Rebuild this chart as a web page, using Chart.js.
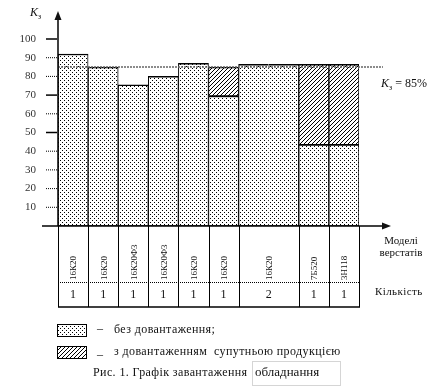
<!DOCTYPE html>
<html lang="uk">
<head>
<meta charset="UTF-8">
<title>Графік завантаження обладнання</title>
<script src="https://cdn.jsdelivr.net/npm/chart.js"></script>
<style>
    html, body { margin: 0; padding: 0; background: #fff; }
    canvas { display: block; }
</style>
</head>
<body>
<canvas id="load-chart" width="444" height="388"></canvas>
<script>
    // Моделі верстатів і їх кількість
    const models = ['16К20', '16К20', '16К20Ф3', '16К20Ф3', '16К20', '16К20', '16К20', '7Б520', '3Н118'];
    const counts = [1, 1, 1, 1, 1, 1, 2, 1, 1];
    // Коефіцієнт завантаження, %
    const baseLoad = [92, 85, 75.5, 80, 87, 69.5, 86.5, 43.5, 43.5];   // без довантаження
    const extraLoad = [null, null, null, null, null, 15.5, null, 43, 43]; // супутня продукція
    const yTicks = [10, 20, 30, 40, 50, 60, 70, 80, 90, 100];
    const solidTicks = [100, 70, 50];
    const targetLoad = 85;

    const serif = '"Liberation Serif", "Times New Roman", serif';
    const canvas = document.getElementById('load-chart');
    const mainCtx = canvas.getContext('2d');

    // один стовпчик на кожен верстат, група з 2 верстатів = подвійна ширина
    const unitLabels = [], unitBase = [], unitExtra = [], unitGroup = [];
    models.forEach((m, g) => {
        for (let k = 0; k < counts[g]; k++) {
            unitLabels.push(m);
            unitBase.push(baseLoad[g]);
            unitExtra.push(extraLoad[g]);
            unitGroup.push(g);
        }
    });

    function makePattern(draw) {
        const tile = document.createElement('canvas');
        tile.width = 4; tile.height = 4;
        const g = tile.getContext('2d');
        g.fillStyle = '#fff';
        g.fillRect(0, 0, 4, 4);
        g.fillStyle = '#000';
        draw(g);
        return mainCtx.createPattern(tile, 'repeat');
    }
    const dots = makePattern(g => { g.fillRect(0, 0, 1, 1); g.fillRect(2, 2, 1, 1); });
    const hatch = makePattern(g => { for (let i = 0; i < 4; i++) g.fillRect(i, 3 - i, 1, 1); });

    function borderFor(ctx) {
        const i = ctx.dataIndex;
        const g = unitGroup[i];
        return {
            top: 1.5, bottom: 1,
            left: i > 0 && unitGroup[i - 1] === g ? 0 : 1,
            right: unitGroup[i + 1] === g ? 0 : 1
        };
    }

    function line(ctx, x1, y1, x2, y2) {
        ctx.beginPath();
        ctx.moveTo(x1, y1);
        ctx.lineTo(x2, y2);
        ctx.stroke();
    }

    function kLabel(ctx, x, y, size, tail) {
        ctx.textAlign = 'left';
        ctx.textBaseline = 'alphabetic';
        ctx.font = `italic ${size}px ${serif}`;
        ctx.fillText('K', x, y);
        let w = ctx.measureText('K').width;
        ctx.font = `${size - 4}px ${serif}`;
        ctx.fillText('з', x + w, y + 3);
        w += ctx.measureText('з').width;
        if (tail) {
            ctx.font = `${size}px ${serif}`;
            ctx.fillText(tail, x + w, y);
        }
    }

    const decor = {
        id: 'decor',
        afterDraw(chart) {
            const ctx = chart.ctx;
            const xs = chart.scales.x, ys = chart.scales.y;
            const left = chart.chartArea.left;
            const y0 = ys.getPixelForValue(0);
            ctx.save();
            ctx.strokeStyle = '#000';
            ctx.fillStyle = '#111';

            // лінія нормативного завантаження
            const yt = ys.getPixelForValue(targetLoad);
            ctx.strokeStyle = '#666';
            ctx.lineWidth = 1.5;
            ctx.setLineDash([2, 1]);
            line(ctx, left, yt, 383, yt);
            ctx.setLineDash([]);
            ctx.fillStyle = '#111';
            kLabel(ctx, 381, yt + 20, 12, ' = 85%');

            // осі зі стрілками
            ctx.strokeStyle = '#000';
            ctx.lineWidth = 1.5;
            line(ctx, left, y0, left, 18);
            line(ctx, 42, y0, 386, y0);
            ctx.beginPath();
            ctx.moveTo(left, 11); ctx.lineTo(left - 3.5, 20); ctx.lineTo(left + 3.5, 20); ctx.closePath();
            ctx.fill();
            ctx.beginPath();
            ctx.moveTo(391, y0); ctx.lineTo(382, y0 - 3.5); ctx.lineTo(382, y0 + 3.5); ctx.closePath();
            ctx.fill();
            kLabel(ctx, 30, 16, 12);

            // поділки осі Y
            yTicks.forEach(v => {
                const py = ys.getPixelForValue(v);
                const solid = solidTicks.includes(v);
                ctx.lineWidth = solid ? 1.5 : 1;
                ctx.setLineDash(solid ? [] : [1, 1]);
                line(ctx, 46, py, left - 1, py);
            });
            ctx.setLineDash([]);

            // таблиця моделей і кількості
            const edges = [xs.getPixelForValue(-0.5)];
            let s = 0;
            counts.forEach(c => { s += c; edges.push(xs.getPixelForValue(s - 0.5)); });
            const tMid = 282, tBot = 307;
            ctx.lineWidth = 1;
            edges.forEach(px => line(ctx, Math.round(px) + 0.5, y0, Math.round(px) + 0.5, tBot));
            ctx.lineWidth = 1.5;
            line(ctx, edges[0], tBot, edges[edges.length - 1] + 1, tBot);
            ctx.lineWidth = 1;
            ctx.setLineDash([1, 1]);
            line(ctx, edges[0], tMid + 0.5, edges[edges.length - 1], tMid + 0.5);
            ctx.setLineDash([]);

            models.forEach((m, g) => {
                const cx = (edges[g] + edges[g + 1]) / 2;
                ctx.save();
                ctx.translate(cx + 1, tMid - 2);
                ctx.rotate(-Math.PI / 2);
                ctx.font = `9px ${serif}`;
                ctx.textAlign = 'left';
                ctx.textBaseline = 'middle';
                ctx.fillText(m, 0, 0);
                ctx.restore();
                ctx.font = `12px ${serif}`;
                ctx.textAlign = 'center';
                ctx.textBaseline = 'middle';
                ctx.fillText(String(counts[g]), cx, 295);
            });

            ctx.font = `11px ${serif}`;
            ctx.textAlign = 'center';
            ctx.fillText('Моделі', 401, 241);
            ctx.fillText('верстатів', 401, 253);
            ctx.textAlign = 'left';
            ctx.letterSpacing = '0.4px';
            ctx.fillText('Кількість', 375, 292);

            // умовні позначення
            ctx.lineWidth = 1;
            [[dots, 324, '–', 'без довантаження;'], [hatch, 346, '_', 'з довантаженням  супутньою продукцією']]
                .forEach(([pat, top, dash, text]) => {
                    ctx.fillStyle = pat;
                    ctx.fillRect(57, top, 30, 13);
                    ctx.strokeRect(57.5, top + 0.5, 29, 12);
                    ctx.fillStyle = '#111';
                    ctx.font = `12px ${serif}`;
                    ctx.textBaseline = 'middle';
                    ctx.fillText(dash, 97, top + 5);
                    ctx.fillText(text, 114, top + 6);
                });

            // підпис рисунка
            ctx.font = `12px ${serif}`;
            ctx.fillText('Рис. 1. Графік завантаження', 93, 373);
            ctx.letterSpacing = '0px';
            ctx.strokeStyle = '#aaa';
            ctx.setLineDash([1, 1]);
            ctx.strokeRect(252.5, 361.5, 88, 24);
            ctx.setLineDash([]);
            ctx.font = `13px ${serif}`;
            ctx.fillText('обладнання', 255, 373);
            ctx.restore();
        }
    };

    new Chart(canvas, {
        type: 'bar',
        data: {
            labels: unitLabels,
            datasets: [
                {
                    label: 'без довантаження',
                    data: unitBase,
                    backgroundColor: dots,
                    borderColor: '#000',
                    borderWidth: borderFor,
                    borderSkipped: false
                },
                {
                    label: 'з довантаженням супутньою продукцією',
                    data: unitExtra,
                    backgroundColor: hatch,
                    borderColor: '#000',
                    borderWidth: borderFor,
                    borderSkipped: false
                }
            ]
        },
        options: {
            responsive: false,
            animation: false,
            devicePixelRatio: 1,
            categoryPercentage: 1,
            barPercentage: 1,
            layout: { padding: { left: 0, top: 39, right: 85, bottom: 162 } },
            plugins: { legend: { display: false }, tooltip: { enabled: false } },
            scales: {
                x: { display: false, stacked: true },
                y: {
                    stacked: true,
                    min: 0,
                    max: 100,
                    border: { display: false },
                    grid: { display: false, drawTicks: false },
                    ticks: {
                        stepSize: 10,
                        padding: 22,
                        color: '#333',
                        font: { family: serif, size: 11 },
                        callback: v => yTicks.includes(v) ? String(v) : ''
                    },
                    afterFit(scale) { scale.width = 58; }
                }
            }
        },
        plugins: [decor]
    });
</script>
</body>
</html>
